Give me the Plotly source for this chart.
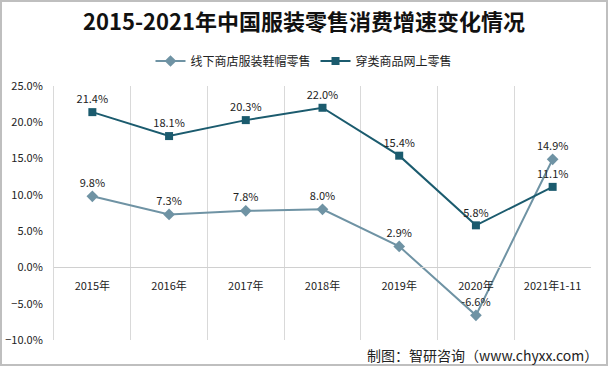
import plotly.graph_objects as go

categories = ["2015年", "2016年", "2017年", "2018年", "2019年", "2020年", "2021年1-11"]
offline_store = [9.8, 7.3, 7.8, 8.0, 2.9, -6.6, 14.9]
online_apparel = [21.4, 18.1, 20.3, 22.0, 15.4, 5.8, 11.1]
name1 = "线下商店服装鞋帽零售"
name2 = "穿类商品网上零售"

W, H = 608, 366
ml, mr, mt, mb = 54, 17, 86, 26
pw, ph = W - ml - mr, H - mt - mb
font = "Noto Sans CJK SC"

fig = go.Figure()
fig.add_trace(go.Scatter(
    x=categories, y=offline_store, name=name1, mode="lines+markers+text",
    line=dict(color="#6F93A4", width=2),
    marker=dict(symbol="diamond", size=9, color="#6F93A4"),
    text=[f"{v:.1f}%" for v in offline_store], textposition="top center",
    textfont=dict(size=11, color="#222222", family=font),
))
fig.add_trace(go.Scatter(
    x=categories, y=online_apparel, name=name2, mode="lines+markers+text",
    line=dict(color="#1B5B6E", width=2),
    marker=dict(symbol="square", size=8, color="#1B5B6E"),
    text=[f"{v:.1f}%" for v in online_apparel], textposition="top center",
    textfont=dict(size=11, color="#222222", family=font),
))

fig.update_layout(
    width=W, height=H,
    margin=dict(l=ml, r=mr, t=mt, b=mb, autoexpand=False),
    paper_bgcolor="white", plot_bgcolor="white",
    font=dict(family=font, size=11, color="#222222"),
    title=dict(text="<b>2015-2021年中国服装零售消费增速变化情况</b>", x=0.5, xanchor="center",
               xref="container", yref="container", automargin=False,
               y=1 - 22 / H, yanchor="middle",
               font=dict(size=22, color="#111111", family=font)),
    legend=dict(orientation="h", x=0.5, xanchor="center", xref="container",
                y=1 - 61 / H, yref="container",
                yanchor="middle", font=dict(size=12, color="#222222", family=font),
                itemwidth=30),
    showlegend=True,
    xaxis=dict(
        type="category", tickson="boundaries", showgrid=True, gridcolor="#d9d9d9", gridwidth=1,
        showline=True, linecolor="#d0d0d0", linewidth=1, ticks="", automargin=False,
        anchor="free", position=10 / 35, ticklabelstandoff=8,
        tickfont=dict(size=11, color="#222222", family=font),
        range=[-0.5, 6.5],
    ),
    yaxis=dict(
        range=[-10, 25], dtick=5, tick0=0, tickformat=".1f", ticksuffix="%", automargin=False,
        showgrid=False, zeroline=False, showline=True, linecolor="#d9d9d9", ticklabelstandoff=8,
        ticks="", tickfont=dict(size=11, color="#222222", family=font),
    ),
)

fig.add_annotation(
    text="制图：智研咨询（www.chyxx.com）", xref="paper", yref="paper",
    x=1 + (mr - 8) / pw, y=-(355 - (H - mb)) / ph, xanchor="right", yanchor="middle",
    showarrow=False, font=dict(size=14, color="#222222", family=font),
)
fig.add_shape(
    type="rect", xref="paper", yref="paper",
    x0=-(ml - 1) / pw, x1=1 + (mr - 1) / pw, y0=-(mb - 1) / ph, y1=1 + (mt - 1) / ph,
    line=dict(color="#bfbfbf", width=2), fillcolor="rgba(0,0,0,0)", layer="below",
)

fig.write_html("out.html", config={"displayModeBar": False},
               post_script="document.body.style.margin='0';")
